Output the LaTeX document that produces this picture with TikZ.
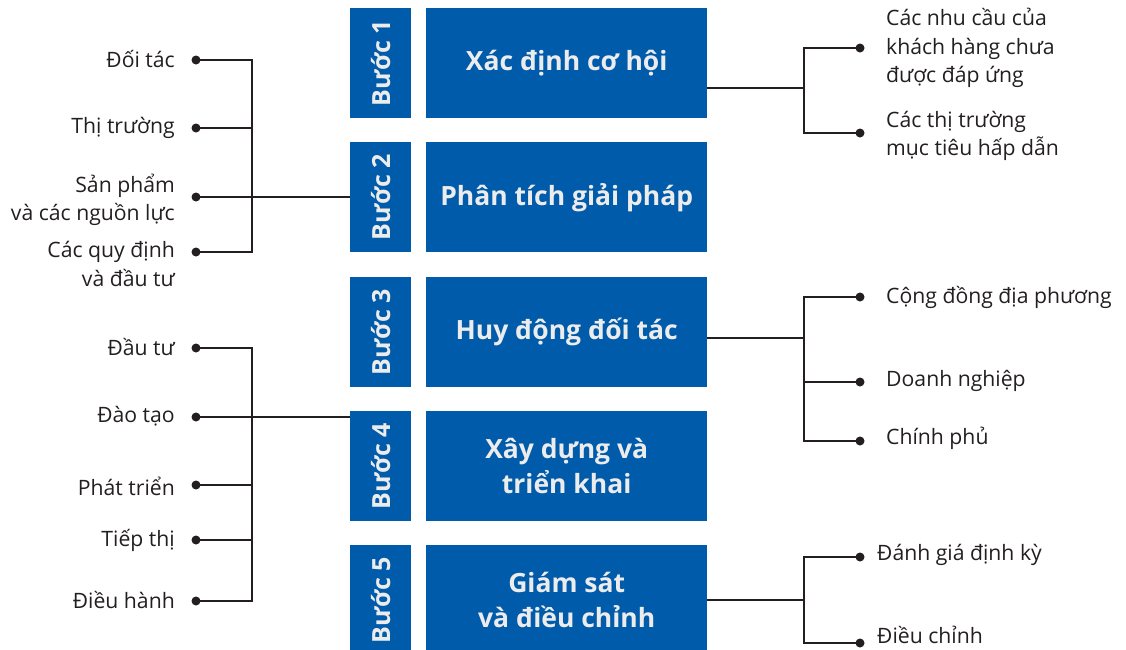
\documentclass[tikz,border=0pt]{standalone}
\usepackage{fontspec}
\setmainfont{Open Sans}
\definecolor{stepblue}{HTML}{005BAA}
\definecolor{ink}{HTML}{231F20}
\definecolor{boxtext}{HTML}{ECECEC}
\begin{document}
\begin{tikzpicture}[x=1pt,y=-1pt,
  stepbox/.style={fill=stepblue, minimum width=61pt, minimum height=110pt, inner sep=0pt, anchor=north west},
  steplabel/.style={rotate=90, text=boxtext, inner sep=0pt, font=\fontsize{25}{30}\selectfont\bfseries},
  mainbox/.style={fill=stepblue, minimum width=281pt, minimum height=110pt, inner sep=0pt, anchor=north west, text=boxtext, align=center, font=\fontsize{26.5}{35}\selectfont\bfseries},
  dot/.style={circle, fill=ink, minimum size=9pt, inner sep=0pt},
  lbl/.style={text=ink, inner sep=0pt, font=\fontsize{21.2}{28.5}\selectfont},
  lblL/.style={lbl, anchor=east, align=right},
  lblR/.style={lbl, anchor=west, align=left},
  wire/.style={draw=ink, line width=1.8pt}
]
\clip (0,0) rectangle (1126,649);
% step boxes
\foreach \i/\y in {1/8,2/142,3/277,4/411,5/545}{
  \node[stepbox] (s\i) at (350,\y) {};
  \node[steplabel] (sl\i) at (s\i.center) {Bước \i};
}
\node[mainbox] (m1) at (426,8) {Xác định cơ hội};
\node[mainbox] (m2) at (426,142) {Phân tích giải pháp};
\node[mainbox] (m3) at (426,277) {Huy động đối tác};
\node[mainbox] (m4) at (426,411) {Xây dựng và\\triển khai};
\node[mainbox] (m5) at (426,545) {Giám sát\\và điều chỉnh};

% ---------- left tree 1 ----------
\coordinate (busA) at (252,0);
\node[dot] (a1) at (196,60) {};
\node[dot] (a2) at (196,128) {};
\node[dot] (a3) at (196,197) {};
\node[dot] (a4) at (196,252) {};
\node[lblL] (la1) at (175,59) {Đối tác};
\node[lblL] (la2) at (175,128) {Thị trường};
\node[lblL] (la3) at (175,200) {Sản phẩm\\và các nguồn lực};
\node[lblL] (la4) at (175,264) {Các quy định\\và đầu tư};
\draw[wire] (a1.center) -| (busA |- a4) -- (a4.center);
\draw[wire] (a2.center) -- (a2 -| busA);
\draw[wire] (a3.center) -- (a3 -| s2.west);

% ---------- left tree 2 ----------
\node[dot] (b1) at (196,348) {};
\node[dot] (b2) at (196,417) {};
\node[dot] (b3) at (196,485) {};
\node[dot] (b4) at (196,540) {};
\node[dot] (b5) at (196,601) {};
\node[lblL] (lb1) at (175,347) {Đầu tư};
\node[lblL] (lb2) at (175,416) {Đào tạo};
\node[lblL] (lb3) at (175,486) {Phát triển};
\node[lblL] (lb4) at (175,540) {Tiếp thị};
\node[lblL] (lb5) at (175,600) {Điều hành};
\draw[wire] (b1.center) -| (busA |- b5) -- (b5.center);
\draw[wire] (b3.center) -- (b3 -| busA);
\draw[wire] (b4.center) -- (b4 -| busA);
\draw[wire] (b2.center) -- (b2 -| s4.west);

% ---------- right tree 1 ----------
\coordinate (busR) at (804,0);
\coordinate (o1) at (707,88);
\node[dot] (c1) at (860,48) {};
\node[dot] (c2) at (860,133) {};
\node[lblR] (lc1) at (886,48) {Các nhu cầu của\\khách hàng chưa\\được đáp ứng};
\node[lblR] (lc2) at (886,136) {Các thị trường\\mục tiêu hấp dẫn};
\draw[wire] (c1.center) -| (busR |- c2) -- (c2.center);
\draw[wire] (o1) -- (o1 -| busR);

% ---------- right tree 3 ----------
\coordinate (o3) at (707,338);
\node[dot] (e1) at (860,297) {};
\node[dot] (e2) at (860,382) {};
\node[dot] (e3) at (860,441) {};
\node[lblR] (le1) at (886,297) {Cộng đồng địa phương};
\node[lblR] (le2) at (886,381) {Doanh nghiệp};
\node[lblR] (le3) at (886,438) {Chính phủ};
\draw[wire] (e1.center) -| (busR |- e3) -- (e3.center);
\draw[wire] (e2.center) -- (e2 -| busR);
\draw[wire] (o3) -- (o3 -| busR);

% ---------- right tree 5 ----------
\coordinate (o5) at (707,600);
\node[dot] (f1) at (860,557) {};
\node[dot] (f2) at (860,643) {};
\node[lblR] (lf1) at (877,555) {Đánh giá định kỳ};
\node[lblR] (lf2) at (877,635) {Điều chỉnh};
\draw[wire] (f1.center) -| (busR |- f2) -- (f2.center);
\draw[wire] (o5) -- (o5 -| busR);
\end{tikzpicture}
\end{document}
